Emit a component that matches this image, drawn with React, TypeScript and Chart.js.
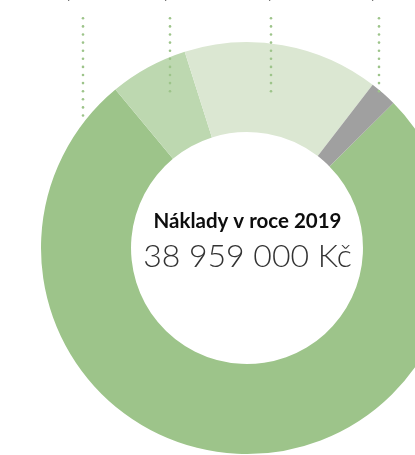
import React, { useEffect, useRef } from "react";
import { Chart, registerables } from "chart.js";

Chart.register(...registerables);

// ---- data ----
const categories = ["Osobní náklady", "Materiál a energie", "Služby", "Ostatní náklady"];
const values = [29760000, 2392000, 5973000, 834000];
const colors = ["#9dc48a", "#bdd8b0", "#dbe7d2", "#a0a0a0"];
const titleText = "Náklady v roce 2019";
const currency = "Kč";

// leader lines (decorative callouts toward labels above, outside the crop)
const leaderX = [83, 170, 271, 379];
const leaderEnd = [120, 97, 97, 97];
// fragments of cut-off label text at the very top
const cutLabelX = [67, 164, 268, 371];

function formatTotal(v: number): string {
  return String(v).replace(/\B(?=(\d{3})+(?!\d))/g, " ") + " " + currency;
}

export default function App() {
  const ref = useRef<HTMLCanvasElement | null>(null);

  useEffect(() => {
    if (!ref.current) return;
    const total = values.reduce((a, b) => a + b, 0);
    const totalText = formatTotal(total);

    const overlay = {
      id: "overlay",
      afterDatasetsDraw(chart: any) {
        const ctx = chart.ctx as CanvasRenderingContext2D;
        const { left, right, top, bottom } = chart.chartArea;
        const cx = (left + right) / 2;
        const cy = (top + bottom) / 2;
        ctx.save();
        // dotted leaders
        ctx.fillStyle = "#9dc48a";
        leaderX.forEach((x, i) => {
          for (let y = 18.3; y <= leaderEnd[i]; y += 8.1) {
            ctx.beginPath();
            ctx.arc(x, y, 1.3, 0, Math.PI * 2);
            ctx.fill();
          }
        });
        // cut-off label fragments
        ctx.fillStyle = "#777";
        ctx.font = "14px Lato";
        ctx.textAlign = "left";
        ctx.textBaseline = "alphabetic";
        cutLabelX.forEach((x) => ctx.fillText("p", x, -1));
        // centre text
        ctx.textAlign = "center";
        ctx.fillStyle = "#0d0d0d";
        ctx.font = "bold 20.5px Lato";
        ctx.fillText(titleText, cx + 0.5, cy - 20);
        ctx.fillStyle = "#333";
        ctx.font = "300 32px Lato";
        ctx.fillText(totalText, cx + 0.5, cy + 19);
        ctx.restore();
      },
    };

    const chart = new Chart(ref.current, {
      type: "doughnut",
      data: {
        labels: categories,
        datasets: [
          {
            data: values,
            backgroundColor: colors,
            borderWidth: 0,
            clip: false as any,
          },
        ],
      },
      options: {
        responsive: false,
        animation: false,
        radius: 206,
        cutout: "56.3%",
        rotation: 45.3,
        layout: { padding: { left: 79, right: 0, top: 41, bottom: 0 } },
        plugins: {
          legend: { display: false },
          tooltip: { enabled: false },
        },
      } as any,
      plugins: [overlay],
    });
    return () => chart.destroy();
  }, []);

  return (
    <div
      style={{
        position: "fixed",
        left: 0,
        top: 0,
        width: 415,
        height: 455,
        overflow: "hidden",
        background: "#fff",
      }}
    >
      <canvas ref={ref} width={415} height={455} style={{ display: "block" }} />
    </div>
  );
}
